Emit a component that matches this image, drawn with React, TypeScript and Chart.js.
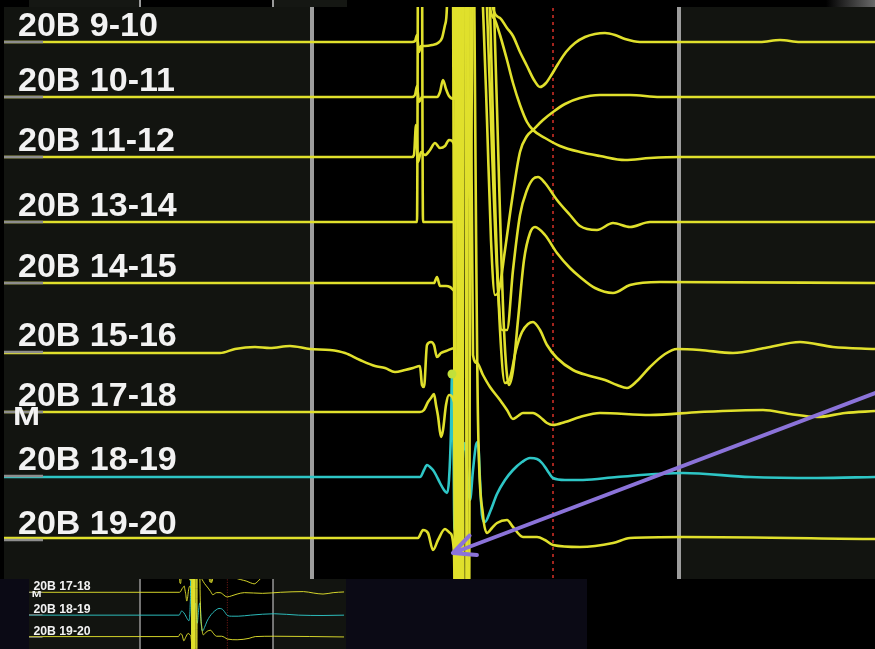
import React, { useEffect, useRef } from "react";
import { Chart, registerables } from "chart.js";

Chart.register(...registerables);

// Each electrogram sample: [ms relative to the pacing stimulus, deflection]
type Pt = [number, number];

const CHANNELS = [
  "20B 9-10",
  "20B 10-11",
  "20B 11-12",
  "20B 13-14",
  "20B 14-15",
  "20B 15-16",
  "20B 17-18",
  "20B 18-19",
  "20B 19-20",
];

// vertical offset of every channel's isoelectric line
const BASELINES = [536, 481, 421, 356, 295, 226, 166, 102, 38];

const EGM_9_10: Pt[] = [
  [-449, 0], [-153, 0], [-41, 0], [-38, 1], [-36, 7], [-34, -10], [-32, -4], [-28, -4], [-21, -3],
  [-15, -1], [-11, 4], [-8, 17], [-6, 37], [-2, 400], [4, -858], [9, 442], [17, -158], [23, 342],
  [35, 102], [40, 34], [47, 24], [54, 14], [60, 6], [67, -10], [74, -24], [81, -38], [87, -45],
  [93, -41], [99, -32], [105, -22], [113, -10], [122, -1], [132, 5], [142, 8], [152, 9], [162, 7],
  [172, 3], [187, 0], [247, 0], [307, 0], [327, 2], [347, 0], [422, 0],
];

const EGM_10_11: Pt[] = [
  [-449, 0], [-41, 0], [-38, 2], [-36, 11], [-34, -5], [-31, 0], [-16, 0], [-13, 5], [-10, 17],
  [-7, 8], [-4, 1], [1, -2], [3, 497], [7, -803], [12, 497], [26, 157], [30, 89], [34, -23],
  [38, -143], [42, -198], [46, -193], [52, -153], [59, -103], [67, -55], [74, -39], [80, -33],
  [90, -23], [100, -15], [112, -7], [127, -1], [147, 2], [177, 2], [207, 0], [422, 0],
];

const EGM_11_12: Pt[] = [
  [-449, 0], [-41, 0], [-39, 2], [-37, 32], [-35, -5], [-32, 5], [-28, 2], [-23, 7], [-18, 14],
  [-13, 9], [-8, 11], [-4, 17], [2, 10], [4, -743], [9, 557], [32, 217], [37, 149], [42, 137],
  [47, 122], [54, 97], [60, 74], [67, 52], [74, 35], [80, 27], [92, 19], [107, 11], [127, 5],
  [147, 1], [172, -3], [197, -1], [227, 0], [422, 0],
];

const EGM_13_14: Pt[] = [
  [-449, 0], [-36, 0], [-34, 622], [-32, 622], [-30, 0], [2, 0], [4, 622], [7, -678], [11, 622],
  [15, -678], [19, 622], [30, 282], [34, 214], [39, 72], [44, -48], [49, -108], [54, -108],
  [60, -48], [67, 7], [74, 32], [80, 43], [85, 45], [92, 39], [104, 22], [117, 7], [127, -4],
  [144, -8], [160, -1], [177, -5], [197, 0], [422, 0],
];

const EGM_14_15: Pt[] = [
  [-449, 0], [-23, 0], [-19, 0], [-16, 6], [-13, -3], [-7, -3], [-3, -4], [2, -8], [5, 683],
  [8, -617], [12, 683], [37, 343], [41, 275], [46, 103], [51, -47], [56, -102], [60, -87],
  [65, -37], [71, 23], [77, 50], [82, 56], [92, 48], [104, 30], [117, 15], [127, 6], [142, -5],
  [160, -10], [177, -2], [207, 1], [422, 0],
];

const EGM_15_16: Pt[] = [
  [-449, -1], [-233, -1], [-218, 3], [-198, 5], [-183, 4], [-163, 6], [-143, 3], [-123, 2],
  [-108, -1], [-93, -8], [-78, -14], [-68, -16], [-58, -20], [-48, -18], [-40, -16], [-33, -14],
  [-31, -33], [-29, -35], [-26, 7], [-22, 10], [-19, 7], [-16, -5], [-12, -1], [-7, 1], [2, 4],
  [6, -548], [10, 752], [33, 412], [37, 344], [42, 152], [47, 22], [52, -31], [57, -26], [63, 2],
  [69, 20], [75, 28], [80, 30], [87, 22], [94, 7], [104, -6], [120, -18], [137, -24], [152, -28],
  [164, -33], [174, -36], [184, -29], [197, -15], [212, -2], [224, 3], [247, 2], [280, -1],
  [312, 4], [347, 10], [380, 5], [422, 3],
];

const EGM_17_18: Pt[] = [
  [-449, 0], [-33, 0], [-29, 2], [-25, 10], [-22, 14], [-19, 18], [-17, 7], [-15, -4], [-12, -25],
  [-10, -18], [-7, 7], [-4, 17], [1, 10], [4, -488], [9, 812], [17, 472], [20, 57], [24, 49],
  [30, 37], [37, 25], [47, 12], [54, 2], [60, -7], [65, -4], [70, -1], [80, -1], [87, -5],
  [94, -11], [100, -13], [112, -10], [127, -5], [147, -1], [197, -3], [247, 0], [310, 2],
  [337, -2], [364, -5], [392, -1], [422, 1],
];

const EGM_18_19: Pt[] = [
  [-449, -1], [-33, -1], [-29, 6], [-26, 11], [-23, 9], [-20, 6], [-17, 1], [-13, -7], [-9, -14],
  [-6, -17], [-4, -4], [-2, 46], [-1, 102], [0.5, 26], [1.5, -54], [4, -19], [7, 6], [10, 26],
  [12, 33], [14, 6], [17, -24], [20, 6], [23, 31], [25, 34], [27, -4], [29, -39], [32, -46],
  [37, -36], [44, -18], [52, -4], [60, 6], [69, 14], [77, 18], [84, 17], [89, 13], [94, 6],
  [100, -2], [112, -4], [130, -4], [164, -1], [230, 3], [297, -1], [364, -2], [422, -1],
];

const EGM_19_20: Pt[] = [
  [-449, 2], [-35, 2], [-30, 10], [-25, 7], [-20, -10], [-15, 0], [-8, 11], [-3, 7], [1, -13],
  [4, -360], [7, 940], [12, -360], [17, 940], [25, 120], [30, 25], [34, 7], [39, 12], [44, 17],
  [54, 20], [60, 13], [70, 3], [84, 3], [92, 0], [100, -5], [127, -7], [160, -3], [177, 2],
  [230, 3], [422, 1],
];

const TRACES: Pt[][] = [
  EGM_9_10, EGM_10_11, EGM_11_12, EGM_13_14, EGM_14_15, EGM_15_16, EGM_17_18, EGM_18_19, EGM_19_20,
];

const YELLOW = "#e0e02c";
const CYAN = "#2ec6c6";
const TRACE_COLORS = [YELLOW, YELLOW, YELLOW, YELLOW, YELLOW, YELLOW, YELLOW, CYAN, YELLOW];

// timing cursors (ms)
const CURSOR_MS = [-141, 226];
const REFERENCE_MS = [100];
// annotation on channel 18-19 (index 7): [ms, deflection]
const CYAN_MARK: Pt = [-1, 102];
// channel that carries the "M" tag
const M_CHANNEL = 6;
// pointer arrow: tail and tip in [ms, level]
const ARROW_TAIL: Pt = [422, 185];
const ARROW_TIP: Pt = [0, 25];

type View = {
  tMin: number;
  tMax: number;
  vMin: number;
  vMax: number;
  s: number;
  pad: { left: number; top: number; right: number; bottom: number };
  arrow: boolean;
};

const MAIN_VIEW: View = {
  tMin: -449, tMax: 422, vMin: -1, vMax: 571, s: 1,
  pad: { left: 4, top: 7, right: 0, bottom: 0 }, arrow: true,
};

const INSET_VIEW: View = {
  tMin: -447.3, tMax: 427.4, vMin: 4.7, vMax: 203.8, s: 0.36,
  pad: { left: 0, top: 0, right: 0, bottom: 0 }, arrow: false,
};

const FONT = '"Liberation Sans", Arial, sans-serif';

function makeConfig(view: View): any {
  const s = view.s;
  const datasets: any[] = [];

  TRACES.forEach((pts, i) => {
    datasets.push({
      data: pts.map(([t, d]) => ({ x: t, y: BASELINES[i] + d })),
      borderColor: TRACE_COLORS[i],
      borderWidth: 2.6 * s,
      pointRadius: 0,
      cubicInterpolationMode: "monotone",
      clip: 0,
      order: i === 7 ? 3 : 2,
    });
  });

  // grey stubs at the left end of every isoelectric line
  BASELINES.forEach((b) => {
    datasets.push({
      data: [{ x: -449, y: b }, { x: -410, y: b }],
      borderColor: "#8e8e8e",
      borderWidth: 2.6 * s,
      pointRadius: 0,
      clip: 0,
      order: 1,
    });
  });

  CURSOR_MS.forEach((t) => {
    datasets.push({
      data: [{ x: t, y: view.vMin - 20 }, { x: t, y: view.vMax + 20 }],
      borderColor: "#9d9d9d",
      borderWidth: 4 * s,
      pointRadius: 0,
      clip: 0,
      order: 5,
    });
  });

  REFERENCE_MS.forEach((t) => {
    datasets.push({
      data: [{ x: t, y: view.vMin - 20 }, { x: t, y: view.vMax + 20 }],
      borderColor: "#a3241e",
      borderWidth: 2 * s,
      borderDash: [3 * s, 4 * s],
      pointRadius: 0,
      clip: 0,
      order: 5,
    });
  });

  datasets.push({
    data: [{ x: CYAN_MARK[0], y: BASELINES[7] + CYAN_MARK[1] }],
    showLine: false,
    pointRadius: 4.5 * s,
    pointBackgroundColor: "#c2e03a",
    pointBorderWidth: 0,
    clip: 0,
    order: 0,
  });

  const backdrop = {
    id: "backdrop",
    beforeDatasetsDraw(chart: any) {
      const { ctx, chartArea: a, scales } = chart;
      ctx.save();
      ctx.fillStyle = "#121410";
      ctx.fillRect(a.left, a.top, a.right - a.left, a.bottom - a.top);
      const x0 = scales.x.getPixelForValue(CURSOR_MS[0]);
      const x1 = scales.x.getPixelForValue(CURSOR_MS[1]);
      ctx.fillStyle = "#000000";
      ctx.fillRect(x0, a.top, x1 - x0, a.bottom - a.top);
      ctx.restore();
    },
  };

  const labels = {
    id: "channelLabels",
    afterDatasetsDraw(chart: any) {
      const { ctx, chartArea: a, scales } = chart;
      ctx.save();
      ctx.beginPath();
      ctx.rect(a.left, a.top, a.right - a.left, a.bottom - a.top);
      ctx.clip();
      ctx.fillStyle = "#f2f2f2";
      ctx.textBaseline = "alphabetic";
      ctx.textAlign = "left";
      ctx.font = `bold ${34 * s}px ${FONT}`;
      const lx = scales.x.getPixelForValue(-435);
      CHANNELS.forEach((name, i) => {
        const y = scales.y.getPixelForValue(BASELINES[i] + 6);
        ctx.fillText(name, lx, y);
      });
      // wide "M" tag on the mapping channel
      ctx.font = `bold ${25 * s}px ${FONT}`;
      const mx = scales.x.getPixelForValue(-440);
      const my = scales.y.getPixelForValue(BASELINES[M_CHANNEL] - 13);
      ctx.translate(mx, my);
      ctx.scale(1.3, 1);
      ctx.fillText("M", 0, 0);
      ctx.restore();
    },
  };

  const arrow = {
    id: "pointer",
    afterDraw(chart: any) {
      if (!view.arrow) return;
      const { ctx, scales } = chart;
      const x0 = scales.x.getPixelForValue(ARROW_TAIL[0]);
      const y0 = scales.y.getPixelForValue(ARROW_TAIL[1]);
      const x1 = scales.x.getPixelForValue(ARROW_TIP[0]);
      const y1 = scales.y.getPixelForValue(ARROW_TIP[1]);
      const ang = Math.atan2(y0 - y1, x0 - x1);
      ctx.save();
      ctx.strokeStyle = "#8b73d9";
      ctx.lineWidth = 4;
      ctx.lineCap = "round";
      ctx.beginPath();
      ctx.moveTo(x0, y0);
      ctx.lineTo(x1, y1);
      for (const sg of [-1, 1]) {
        const a = ang + sg * 0.45;
        ctx.moveTo(x1, y1);
        ctx.lineTo(x1 + 24 * Math.cos(a), y1 + 24 * Math.sin(a));
      }
      ctx.stroke();
      ctx.restore();
    },
  };

  return {
    type: "line",
    data: { datasets },
    options: {
      responsive: false,
      animation: false,
      devicePixelRatio: 1,
      events: [],
      layout: { padding: view.pad, autoPadding: false },
      plugins: { legend: { display: false }, tooltip: { enabled: false } },
      scales: {
        x: { type: "linear", display: false, min: view.tMin, max: view.tMax },
        y: { type: "linear", display: false, min: view.vMin, max: view.vMax },
      },
    },
    plugins: [backdrop, labels, arrow],
  };
}

export default function App() {
  const mainRef = useRef<HTMLCanvasElement>(null);
  const insetRef = useRef<HTMLCanvasElement>(null);

  useEffect(() => {
    const main = new Chart(mainRef.current as HTMLCanvasElement, makeConfig(MAIN_VIEW));
    const inset = new Chart(insetRef.current as HTMLCanvasElement, makeConfig(INSET_VIEW));
    return () => {
      main.destroy();
      inset.destroy();
    };
  }, []);

  const abs = (l: number, t: number, w: number, h: number, bg: string): React.CSSProperties => ({
    position: "absolute", left: l, top: t, width: w, height: h, background: bg,
  });

  return (
    <div style={{ position: "fixed", left: 0, top: 0, width: 875, height: 649, background: "#000", overflow: "hidden" }}>
      <div style={abs(29, 0, 110, 7, "#151713")} />
      <div style={abs(139, 0, 2, 7, "#9a9a9a")} />
      <div style={abs(272, 0, 2, 7, "#9a9a9a")} />
      <div style={abs(274, 0, 73, 7, "#151713")} />
      <div style={abs(826, 0, 49, 7, "linear-gradient(90deg, #000, #6a6a6a)")} />
      <div style={abs(0, 579, 587, 70, "#0b0a15")} />
      <canvas ref={mainRef} width={875} height={579} style={{ position: "absolute", left: 0, top: 0 }} />
      <canvas ref={insetRef} width={317} height={70} style={{ position: "absolute", left: 29, top: 579 }} />
    </div>
  );
}
